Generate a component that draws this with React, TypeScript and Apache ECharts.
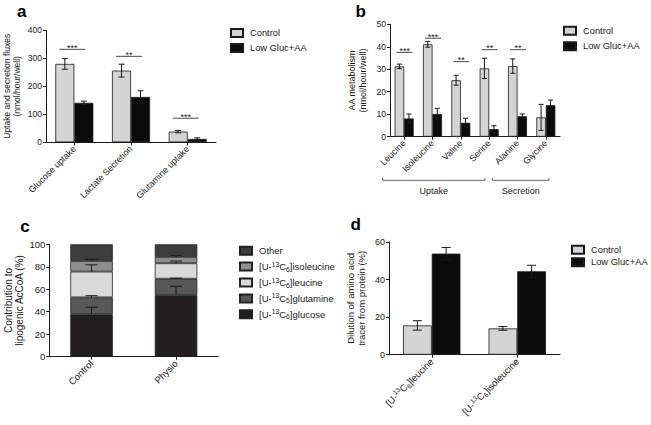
import React, { useEffect, useRef } from "react";
import * as echarts from "echarts";

const FONT = '"Liberation Sans", Arial, Helvetica, sans-serif';
const INK = "#1a1a1a";
const LIGHT = "#d4d4d4";
const DARK = "#0b0b0b";

// ---------- Panel a ----------
const aCategories = ["Glucose uptake", "Lactate Secretion", "Glutamine uptake"];
const aControl = [280, 256, 38];
const aControlErr = [19, 23, 4];
const aLow = [141, 162, 12];
const aLowErr = [6, 22, 4];
const aSigCats = [0, 1, 2];
const aSigY = [332, 307, 86];
const aSigMarks = ["***", "**", "***"];

// ---------- Panel b ----------
const bCategories = ["Leucine", "Isoleucine", "Valine", "Serine", "Alanine", "Glycine"];
const bControl = [31.3, 41.1, 25.1, 30.4, 31.4, 8.6];
const bControlErr = [1, 1.3, 2.2, 4.5, 3.2, 5.8];
const bLow = [8.1, 10.1, 6.2, 3.4, 9.1, 14.0];
const bLowErr = [2, 2.5, 2, 1.5, 1, 2.3];
const bSigCats = [0, 1, 2, 3, 4];
const bSigY = [37.5, 43.8, 33.4, 38.7, 38.7];
const bSigMarks = ["***", "***", "**", "**", "**"];
const bGroupLabels = ["Uptake", "Secretion"];

// ---------- Panel c ----------
const cCategories = ["Control", "Physio"];
const cSources = ["[U-13C6]glucose", "[U-13C5]glutamine", "[U-13C6]leucine", "[U-13C6]isoleucine", "Other"];
const cGlucose = [38, 54.9];
const cGlutamine = [14.8, 14.5];
const cLeucine = [22.9, 13.7];
const cIsoleucine = [9.5, 5.6];
const cOther = [14.8, 11.3];
const cGlucoseErr = [6, 7.7];
const cGlutamineErr = [1.5, 0.5];
const cLeucineErr = [6, 2];
const cIsoleucineErr = [1.4, 1.2];
const cColors = ["#231f20", "#58585a", "#d9d9d9", "#8e8e8e", "#3d3d3d"];

// ---------- Panel d ----------
const dCategories = ["[U-13C6]leucine", "[U-13C6]isoleucine"];
const dControl = [15.6, 14.0];
const dControlErr = [2.5, 1];
const dLow = [53.8, 44.4];
const dLowErr = [3.3, 3.2];

function richIso(name: string): string {
  const m = name.match(/^\[U-13C(\d)\](.*)$/);
  if (!m) return name;
  return `[U-{sup|13}C{sub|${m[1]}}]${m[2]}`;
}

const richFor = (size: number) => ({
  sup: { fontSize: size, verticalAlign: "top", fontFamily: FONT, color: INK },
  sub: { fontSize: size, verticalAlign: "bottom", fontFamily: FONT, color: INK },
});

function errorSeries(gi: number, vals: number[], errs: number[], offset: number, capHalf: number, upOnly = false) {
  return {
    type: "custom",
    xAxisIndex: gi,
    yAxisIndex: gi,
    silent: true,
    z: 5,
    encode: { x: 0, y: 1 },
    data: vals.map((v, i) => [i, v, errs[i]]),
    renderItem: (params: any, api: any) => {
      const x = api.value(0);
      const y = api.value(1);
      const e = api.value(2);
      const top = api.coord([x, y + e]);
      const bot = api.coord([x, upOnly ? y : y - e]);
      const cx = top[0] + offset;
      const st = { stroke: INK, lineWidth: 1 };
      const children: any[] = [
        { type: "line", shape: { x1: cx, y1: top[1], x2: cx, y2: bot[1] }, style: st },
        { type: "line", shape: { x1: cx - capHalf, y1: top[1], x2: cx + capHalf, y2: top[1] }, style: st },
      ];
      if (!upOnly) {
        children.push({ type: "line", shape: { x1: cx - capHalf, y1: bot[1], x2: cx + capHalf, y2: bot[1] }, style: st });
      }
      return { type: "group", children };
    },
  };
}

function sigSeries(gi: number, cats: number[], ys: number[], marks: string[], halfW: number, shift: number, fs: number) {
  return {
    type: "custom",
    xAxisIndex: gi,
    yAxisIndex: gi,
    silent: true,
    z: 5,
    encode: { x: 0, y: 1 },
    data: cats.map((c, k) => [c, ys[k]]),
    renderItem: (params: any, api: any) => {
      const p = api.coord([api.value(0), api.value(1)]);
      const cx = p[0] + shift;
      return {
        type: "group",
        children: [
          { type: "line", shape: { x1: cx - halfW, y1: p[1], x2: cx + halfW, y2: p[1] }, style: { stroke: INK, lineWidth: 0.8 } },
          {
            type: "text",
            x: cx,
            y: p[1] + 3,
            style: {
              text: marks[params.dataIndex],
              fill: INK,
              fontSize: fs,
              fontFamily: FONT,
              align: "center",
              verticalAlign: "bottom",
            },
          },
        ],
      };
    },
  };
}

function catAxis(gi: number, data: string[], fs: number, rich = false) {
  return {
    type: "category",
    gridIndex: gi,
    data,
    axisLine: { show: true, lineStyle: { color: INK, width: 1 } },
    axisTick: { show: true, alignWithLabel: true, length: 3, lineStyle: { color: INK } },
    axisLabel: {
      rotate: 45,
      interval: 0,
      fontSize: fs,
      fontFamily: FONT,
      color: INK,
      margin: 5,
      ...(rich ? { formatter: (v: string) => richIso(v), rich: richFor(fs * 0.7), lineHeight: fs + 3 } : {}),
    },
    splitLine: { show: false },
  };
}

function valAxis(gi: number, max: number, interval: number, name: string, nameGap: number, tickFs: number, nameFs: number) {
  return {
    type: "value",
    gridIndex: gi,
    min: 0,
    max,
    interval,
    name,
    nameLocation: "middle",
    nameRotate: 90,
    nameGap,
    nameTextStyle: { fontSize: nameFs, fontFamily: FONT, color: INK, lineHeight: nameFs + 1.5 },
    axisLine: { show: true, lineStyle: { color: INK, width: 1 } },
    axisTick: { show: true, length: 3, lineStyle: { color: INK } },
    axisLabel: { fontSize: tickFs, fontFamily: FONT, color: INK, margin: 4 },
    splitLine: { show: false },
  };
}

function pairLegend(left: number, top: number, gap: number) {
  return {
    left,
    top,
    orient: "vertical",
    padding: 0,
    selectedMode: false,
    icon: "rect",
    itemWidth: 12,
    itemHeight: 8,
    itemGap: gap,
    data: ["Control", "Low Gluc+AA"],
    textStyle: { fontSize: 9.3, fontFamily: FONT, color: INK, lineHeight: 11, padding: [0, 0, 0, 2] },
  };
}

function barPair(gi: number, control: number[], low: number[], width: number) {
  return [
    {
      name: "Control",
      type: "bar",
      xAxisIndex: gi,
      yAxisIndex: gi,
      barWidth: width,
      barGap: "0%",
      data: control,
      itemStyle: { color: LIGHT, borderColor: INK, borderWidth: 0.8 },
    },
    {
      name: "Low Gluc+AA",
      type: "bar",
      xAxisIndex: gi,
      yAxisIndex: gi,
      barWidth: width,
      barGap: "0%",
      data: low,
      itemStyle: { color: DARK, borderColor: INK, borderWidth: 0.8 },
    },
  ];
}

function panelLetter(letter: string, x: number, y: number) {
  return {
    type: "text",
    x,
    y,
    style: {
      text: letter,
      fill: "#000",
      fontSize: 17,
      fontWeight: "bold",
      fontFamily: FONT,
      align: "center",
      verticalAlign: "middle",
      textAlign: "center",
      textVerticalAlign: "middle",
    },
  };
}

function bracket(x1: number, x2: number, y: number, label: string) {
  return [
    {
      type: "polyline",
      shape: { points: [[x1, y - 2.5], [x1, y], [x2, y], [x2, y - 2.5]] },
      style: { stroke: "#444", lineWidth: 0.8, fill: "none" },
    },
    {
      type: "text",
      x: (x1 + x2) / 2,
      y: y + 10.5,
      style: {
        text: label,
        fill: INK,
        fontSize: 9,
        fontFamily: FONT,
        align: "center",
        verticalAlign: "middle",
        textAlign: "center",
        textVerticalAlign: "middle",
      },
    },
  ];
}

export default function App() {
  const ref = useRef<HTMLDivElement>(null);
  useEffect(() => {
    if (!ref.current) return;
    const chart = echarts.init(ref.current, undefined, { renderer: "svg" });

    const cStackVals = [cGlucose, cGlutamine, cLeucine, cIsoleucine, cOther];
    const cErrs = [cGlucoseErr, cGlutamineErr, cLeucineErr, cIsoleucineErr];
    const cum: number[][] = [];
    cStackVals.forEach((arr, k) => {
      cum.push(arr.map((v, i) => v + (k > 0 ? cum[k - 1][i] : 0)));
    });

    const cBars = cSources.map((name, k) => ({
      name,
      type: "bar",
      xAxisIndex: 2,
      yAxisIndex: 2,
      stack: "c",
      barWidth: 42.5,
      data: cStackVals[k],
      itemStyle: { color: cColors[k], borderColor: "#222", borderWidth: 0.8 },
    }));
    const cErrSeries = cErrs.map((errs, k) => errorSeries(2, cum[k], errs, 0, 6, true));

    const option: any = {
      animation: false,
      backgroundColor: "#fff",
      textStyle: { fontFamily: FONT },
      grid: [
        { left: 46, top: 30.3, width: 170, height: 112, outerBoundsMode: "none", containLabel: false },
        { left: 390, top: 24.3, width: 170, height: 112.4, outerBoundsMode: "none", containLabel: false },
        { left: 49.3, top: 244.3, width: 169, height: 112.4, outerBoundsMode: "none", containLabel: false },
        { left: 389, top: 242, width: 171, height: 112.7, outerBoundsMode: "none", containLabel: false },
      ],
      xAxis: [
        catAxis(0, aCategories, 9),
        catAxis(1, bCategories, 9),
        catAxis(2, cCategories, 9.5),
        catAxis(3, dCategories, 9.5, true),
      ],
      yAxis: [
        valAxis(0, 400, 100, "Uptake and secretion fluxes\n(nmol/hour/well)", 24, 8.5, 8.5),
        valAxis(1, 50, 10, "AA metabolism\n(nmol/hour/well)", 22, 8.5, 9),
        valAxis(2, 100, 20, "Contribution to\nlipogenic AcCoA (%)", 22, 9.5, 10),
        valAxis(3, 60, 20, "Dilution of amino acid\ntracer from protein (%)", 22, 9, 9.5),
      ],
      legend: [
        pairLegend(230, 27.5, 4),
        pairLegend(563, 25.2, 4.6),
        {
          left: 239,
          top: 244.7,
          orient: "vertical",
          padding: 0,
          selectedMode: false,
          icon: "rect",
          itemWidth: 12,
          itemHeight: 8,
          itemGap: 3.9,
          data: [...cSources].reverse(),
          formatter: (name: string) => richIso(name),
          textStyle: {
            fontSize: 9.5,
            fontFamily: FONT,
            color: INK,
            lineHeight: 12,
            padding: [0, 0, 0, 2],
            rich: richFor(6.8),
          },
        },
        pairLegend(571, 244.2, 1.6),
      ],
      series: [
        ...barPair(0, aControl, aLow, 19),
        errorSeries(0, aControl, aControlErr, -9.5, 3),
        errorSeries(0, aLow, aLowErr, 9.5, 3),
        sigSeries(0, aSigCats, aSigY, aSigMarks, 13, -2, 9),
        ...barPair(1, bControl, bLow, 9.5),
        errorSeries(1, bControl, bControlErr, -4.75, 2.5),
        errorSeries(1, bLow, bLowErr, 4.75, 2.5),
        sigSeries(1, bSigCats, bSigY, bSigMarks, 8, 0.5, 9),
        ...cBars,
        ...cErrSeries,
        ...barPair(3, dControl, dLow, 28.7),
        errorSeries(3, dControl, dControlErr, -14.35, 4.5),
        errorSeries(3, dLow, dLowErr, 14.35, 4.5),
      ],
      graphic: [
        panelLetter("a", 21.7, 11.7),
        panelLetter("b", 360.7, 11.7),
        panelLetter("c", 25, 226),
        panelLetter("d", 355.7, 224),
        ...bracket(382.7, 485, 180.3, bGroupLabels[0]),
        ...bracket(492.3, 549, 180.3, bGroupLabels[1]),
      ],
    };
    chart.setOption(option);
    return () => chart.dispose();
  }, []);
  return (
    <div
      ref={ref}
      style={{ position: "absolute", left: 0, top: 0, width: 651, height: 425, background: "#fff" }}
    />
  );
}
